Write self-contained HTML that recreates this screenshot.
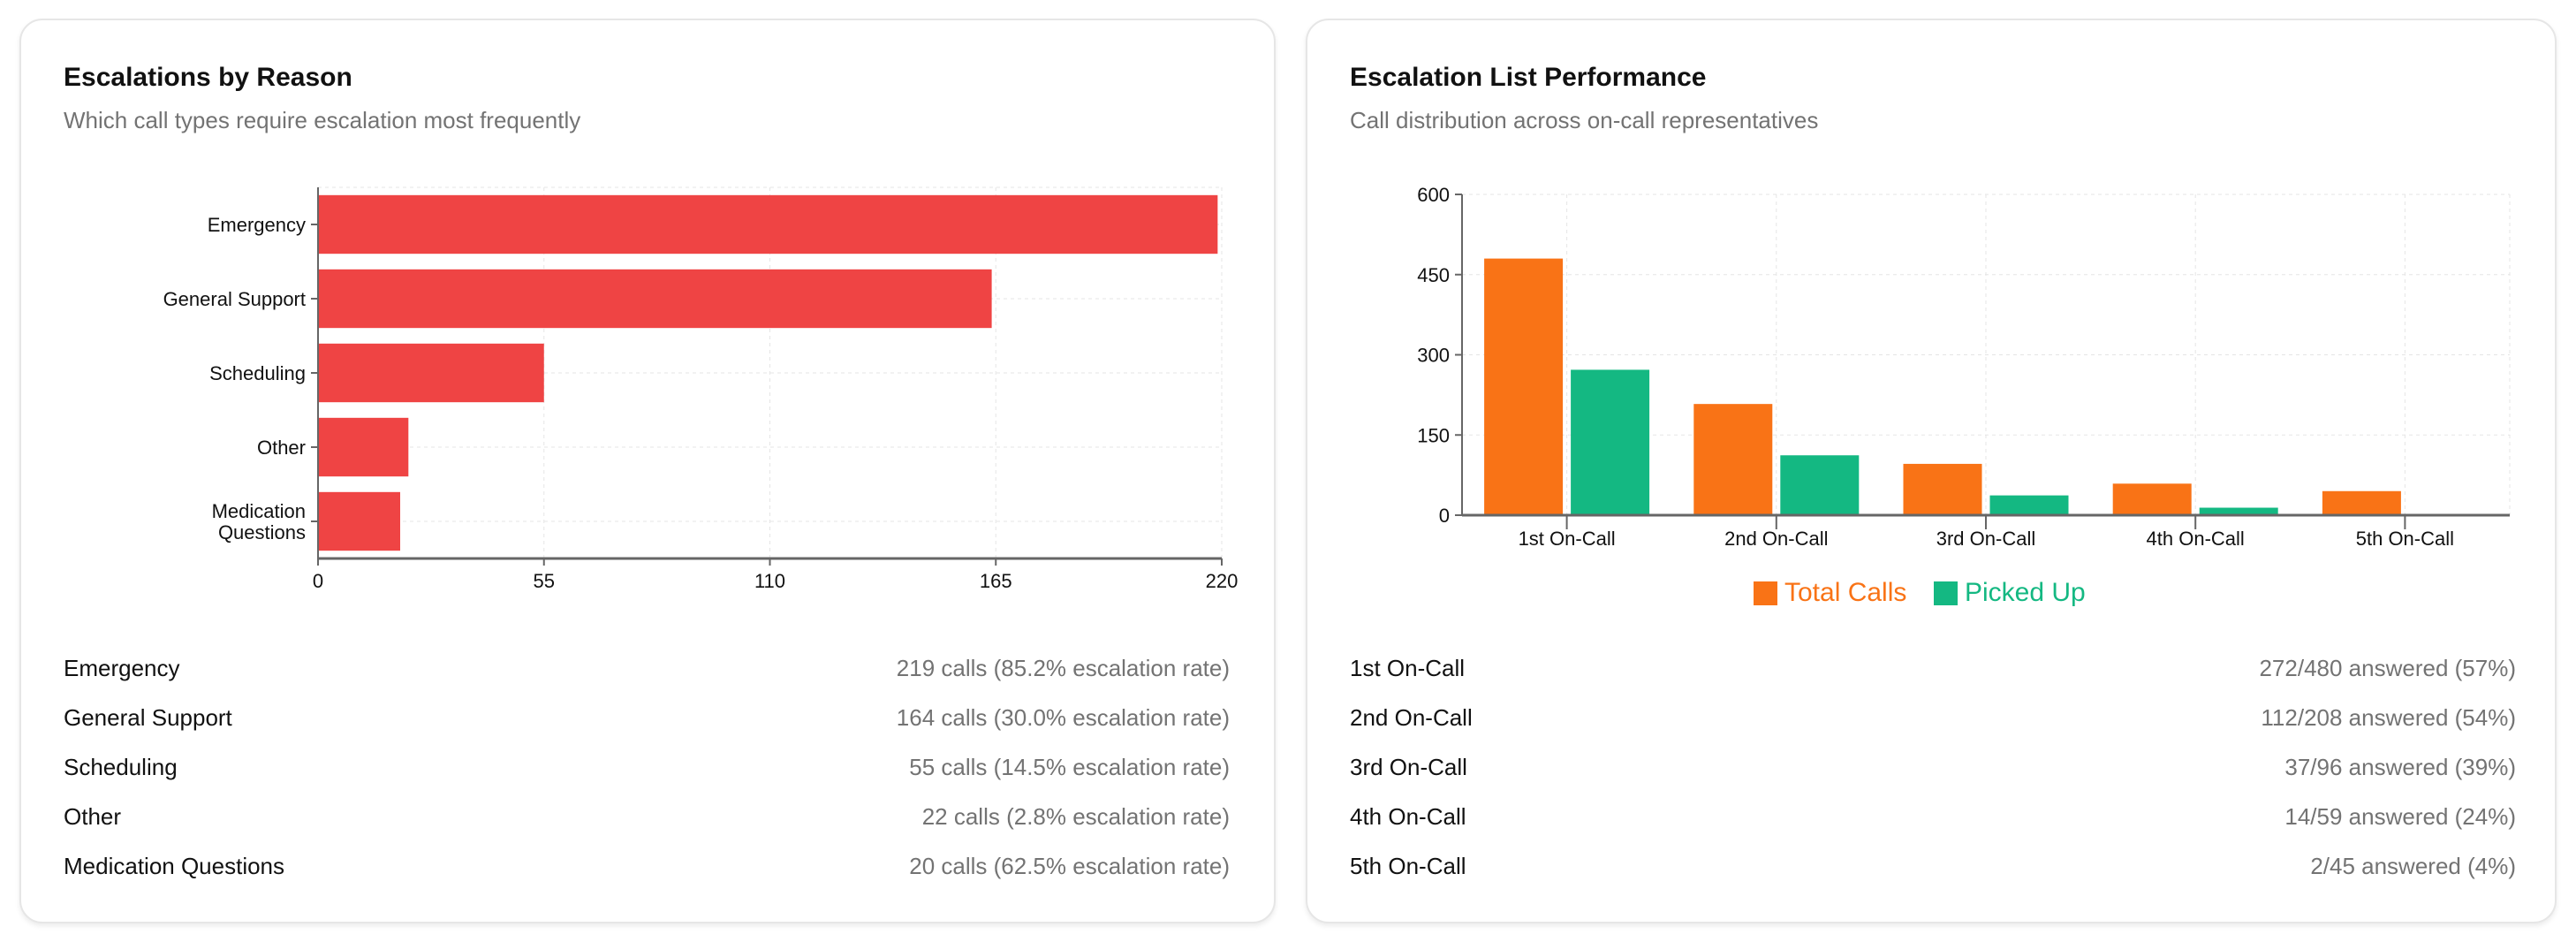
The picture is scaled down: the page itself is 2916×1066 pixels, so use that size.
<!DOCTYPE html>
<html><head><meta charset="utf-8"><style>
body{margin:0;width:2916px;height:1066px;background:#fff;font-family:"Liberation Sans",sans-serif;overflow:hidden;position:relative}
.card{position:absolute;top:21px;height:1024px;border:2px solid #e6e6e6;border-radius:26px;box-shadow:0 3px 6px rgba(0,0,0,0.08);background:#fff;box-sizing:border-box}
.title{position:absolute;left:48px;top:48px;font-size:30px;font-weight:bold;color:#111}
.sub{position:absolute;left:48px;top:98px;font-size:26px;color:#737373}
.row{position:absolute;left:48px;right:50px;height:40px;font-size:26px;display:flex;justify-content:space-between;align-items:center}
.row .l{color:#111}.row .r{color:#737373}
svg{position:absolute;left:0;top:0}
</style></head><body>
<div class="card" style="left:22px;width:1422px">
<div class="title">Escalations by Reason</div>
<div class="sub">Which call types require escalation most frequently</div>
<div class="row" style="top:713px"><span class="l">Emergency</span><span class="r">219 calls (85.2% escalation rate)</span></div>
<div class="row" style="top:769px"><span class="l">General Support</span><span class="r">164 calls (30.0% escalation rate)</span></div>
<div class="row" style="top:825px"><span class="l">Scheduling</span><span class="r">55 calls (14.5% escalation rate)</span></div>
<div class="row" style="top:881px"><span class="l">Other</span><span class="r">22 calls (2.8% escalation rate)</span></div>
<div class="row" style="top:937px"><span class="l">Medication Questions</span><span class="r">20 calls (62.5% escalation rate)</span></div>
</div>
<div class="card" style="left:1478px;width:1416px">
<div class="title">Escalation List Performance</div>
<div class="sub">Call distribution across on-call representatives</div>
<div class="row" style="top:713px;right:44px"><span class="l">1st On-Call</span><span class="r">272/480 answered (57%)</span></div>
<div class="row" style="top:769px;right:44px"><span class="l">2nd On-Call</span><span class="r">112/208 answered (54%)</span></div>
<div class="row" style="top:825px;right:44px"><span class="l">3rd On-Call</span><span class="r">37/96 answered (39%)</span></div>
<div class="row" style="top:881px;right:44px"><span class="l">4th On-Call</span><span class="r">14/59 answered (24%)</span></div>
<div class="row" style="top:937px;right:44px"><span class="l">5th On-Call</span><span class="r">2/45 answered (4%)</span></div>
</div>
<svg id="chart" width="2916" height="1066" font-family="Liberation Sans, sans-serif"></svg>
<script>
const reasons=["Emergency","General Support","Scheduling","Other","Medication Questions"];
const reasonCalls=[219,164,55,22,20];
const reasonTicks=[0,55,110,165,220];
const tiers=["1st On-Call","2nd On-Call","3rd On-Call","4th On-Call","5th On-Call"];
const totalCalls=[480,208,96,59,45];
const pickedUp=[272,112,37,14,2];
const tierTicks=[0,150,300,450,600];

const svg=document.getElementById('chart');
const NS='http://www.w3.org/2000/svg';
function mk(tag,attrs,name,parent){const e=document.createElementNS(NS,tag);for(const k in attrs)e.setAttribute(k,attrs[k]);


(parent||svg).appendChild(e);return e;}

// Chart 1 horizontal
const L1=360,R1=1383,T1=212,B1=632;
const x1=v=>L1+(v/220)*(R1-L1);
const band1=(B1-T1)/reasons.length;
reasonTicks.forEach(t=>{
 if(t>0)mk('line',{x1:x1(t),x2:x1(t),y1:T1,y2:B1,stroke:'#e5e5e5','stroke-dasharray':'4 4'},'x-gridline');
 mk('line',{x1:x1(t),x2:x1(t),y1:B1,y2:B1+8,stroke:'#666','stroke-width':2},'x-tick');
 const tx=mk('text',{x:x1(t),y:B1+33,'text-anchor':'middle','font-size':22,fill:'#111'},'x-tick-label');tx.textContent=t;
});
mk('line',{x1:L1,x2:R1,y1:T1,y2:T1,stroke:'#e5e5e5','stroke-dasharray':'4 4'},'gridline');
reasons.forEach((r,i)=>{
 const cy=T1+band1*(i+0.5);
 mk('line',{x1:L1,x2:R1,y1:cy,y2:cy,stroke:'#e5e5e5','stroke-dasharray':'4 4'},'y-gridline');
 const bh=band1*0.79;
 mk('rect',{x:L1,y:cy-bh/2,width:x1(reasonCalls[i])-L1,height:bh,fill:'#ef4444'},'bar-'+r.toLowerCase().replace(/ /g,'-'));
 mk('line',{x1:L1-8,x2:L1,y1:cy,y2:cy,stroke:'#666','stroke-width':2},'y-tick');
 const words=r==="Medication Questions"?["Medication","Questions"]:[r];
 words.forEach((w,j)=>{const tx=mk('text',{x:L1-14,y:cy+8+(j-(words.length-1)/2)*24,'text-anchor':'end','font-size':22,fill:'#111'},'y-tick-label');tx.textContent=w;});
});
mk('line',{x1:L1,x2:L1,y1:T1,y2:B1,stroke:'#666','stroke-width':2},'y-axis');
mk('line',{x1:L1,x2:R1,y1:B1,y2:B1,stroke:'#666','stroke-width':3},'x-axis');

// Chart 2 grouped
const L2=1655,R2=2841,T2=220,B2=583;
const y2=v=>B2-(v/600)*(B2-T2);
const band2=(R2-L2)/tiers.length;
tierTicks.forEach(t=>{
 if(t>0)mk('line',{x1:L2,x2:R2,y1:y2(t),y2:y2(t),stroke:'#e5e5e5','stroke-dasharray':'4 4'},'y-gridline');
 mk('line',{x1:L2-8,x2:L2,y1:y2(t),y2:y2(t),stroke:'#666','stroke-width':2},'y-tick');
 const tx=mk('text',{x:L2-14,y:y2(t)+8,'text-anchor':'end','font-size':22,fill:'#111'},'y-tick-label');tx.textContent=t;
});
mk('line',{x1:R2,x2:R2,y1:T2,y2:B2,stroke:'#e5e5e5','stroke-dasharray':'4 4'},'gridline');
tiers.forEach((c,i)=>{
 const cx=L2+band2*(i+0.5);
 mk('line',{x1:cx,x2:cx,y1:T2,y2:B2,stroke:'#e5e5e5','stroke-dasharray':'4 4'},'x-gridline');
 const bw=89,gap=9;
 mk('rect',{x:cx-gap/2-bw,y:y2(totalCalls[i]),width:bw,height:B2-y2(totalCalls[i]),fill:'#f97316'},'bar-total-calls');
 mk('rect',{x:cx+gap/2,y:y2(pickedUp[i]),width:bw,height:B2-y2(pickedUp[i]),fill:'#14b882'},'bar-picked-up');
 mk('line',{x1:cx,x2:cx,y1:B2,y2:B2+16,stroke:'#666','stroke-width':2},'x-tick');
 const tx=mk('text',{x:cx,y:B2+34,'text-anchor':'middle','font-size':22,fill:'#111'},'x-tick-label');tx.textContent=c;
});
mk('line',{x1:L2,x2:L2,y1:T2,y2:B2,stroke:'#666','stroke-width':2},'y-axis');
mk('line',{x1:L2,x2:R2,y1:B2,y2:B2,stroke:'#666','stroke-width':3},'x-axis');
// legend
mk('rect',{x:1985,y:658,width:27,height:27,fill:'#f97316'},'legend-swatch-total-calls');
let lt=mk('text',{x:2020,y:680,'font-size':30,fill:'#f97316'},'legend-entry-total-calls');lt.textContent='Total Calls';
mk('rect',{x:2189,y:658,width:27,height:27,fill:'#14b882'},'legend-swatch-picked-up');
lt=mk('text',{x:2224,y:680,'font-size':30,fill:'#14b882'},'legend-entry-picked-up');lt.textContent='Picked Up';
</script>
</body></html>
